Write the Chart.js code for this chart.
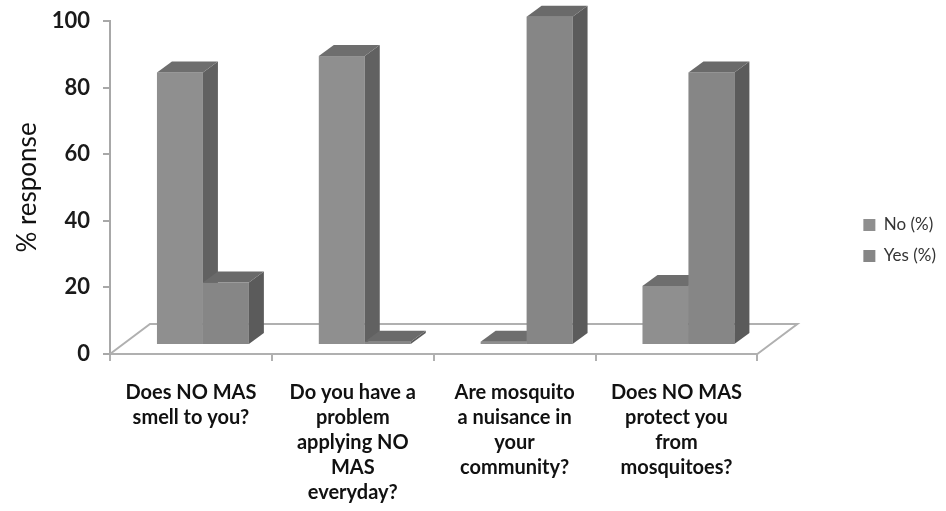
<!DOCTYPE html>
<html>
<head>
<meta charset="utf-8">
<script src="https://cdn.jsdelivr.net/npm/chart.js@4.4.0/dist/chart.umd.min.js"></script>
<style>
  html, body { margin: 0; padding: 0; background: #fff; }
  #wrap { width: 946px; height: 511px; }
</style>
</head>
<body>
<div id="wrap"><canvas id="chart" width="946" height="511"></canvas></div>
<script>
// Survey answers, % response
const categories = [
  ['Does NO MAS', 'smell to you?'],
  ['Do you have a', 'problem', 'applying NO', 'MAS', 'everyday?'],
  ['Are mosquito', 'a nuisance in', 'your', 'community?'],
  ['Does NO MAS', 'protect you', 'from', 'mosquitoes?']
];
const noValues = [83, 88, 1, 18];
const yesValues = [19, 1, 100, 83];
const yTicks = [0, 20, 40, 60, 80, 100];

// 3D look (pixels). The chart area is the front plane of the floor;
// the bars stand a bit further back.
const BAR_X = 12, BAR_Y = -9, BAR_SCALE = 0.986;
const DEPTH_X = 15, DEPTH_Y = -11;   // bar depth
const FLOOR_X = 40, FLOOR_Y = -30;   // floor depth
const faces = [
  { front: '#8f8f8f', top: '#6e6e6e', side: '#616161' },
  { front: '#868686', top: '#6a6a6a', side: '#5b5b5b' }
];

const frame3d = {
  id: 'frame3d',
  beforeDatasetsDraw(chart) {
    const { ctx, chartArea: a } = chart;
    ctx.save();
    ctx.lineWidth = 2;
    ctx.strokeStyle = '#b0b0b0';
    ctx.beginPath();
    ctx.moveTo(a.left, a.bottom);
    ctx.lineTo(a.left + FLOOR_X, a.bottom + FLOOR_Y);
    ctx.lineTo(a.right + FLOOR_X, a.bottom + FLOOR_Y);
    ctx.lineTo(a.right, a.bottom);
    ctx.stroke();
    ctx.restore();
  },
  // the flat bars are replaced by blocks below
  beforeDatasetDraw() {
    return false;
  },
  // No first, then Yes in front of its side
  afterDatasetsDraw(chart) {
    const ctx = chart.ctx;
    ctx.save();
    chart.data.datasets.forEach((ds, i) => {
      const c = faces[i];
      chart.getDatasetMeta(i).data.forEach(bar => {
        const p = bar.getProps(['x', 'y', 'base', 'width'], true);
        const l = p.x - p.width / 2 + BAR_X, r = p.x + p.width / 2 + BAR_X;
        const base = p.base + BAR_Y;
        const y = base - (p.base - p.y) * BAR_SCALE;
        ctx.fillStyle = c.front;
        ctx.fillRect(l, y, r - l, base - y);
        // side
        ctx.fillStyle = c.side;
        ctx.beginPath();
        ctx.moveTo(r, y);
        ctx.lineTo(r + DEPTH_X, y + DEPTH_Y);
        ctx.lineTo(r + DEPTH_X, base + DEPTH_Y);
        ctx.lineTo(r, base);
        ctx.closePath();
        ctx.fill();
        // top
        ctx.fillStyle = c.top;
        ctx.beginPath();
        ctx.moveTo(l, y);
        ctx.lineTo(l + DEPTH_X, y + DEPTH_Y);
        ctx.lineTo(r + DEPTH_X, y + DEPTH_Y);
        ctx.lineTo(r, y);
        ctx.closePath();
        ctx.fill();
      });
    });
    ctx.restore();
  }
};

new Chart(document.getElementById('chart'), {
  type: 'bar',
  data: {
    labels: categories,
    datasets: [
      { label: 'No (%)', data: noValues, backgroundColor: faces[0].front,
        categoryPercentage: 0.568, barPercentage: 1 },
      { label: 'Yes (%)', data: yesValues, backgroundColor: faces[1].front,
        categoryPercentage: 0.568, barPercentage: 1 }
    ]
  },
  options: {
    responsive: false,
    animation: false,
    events: [],
    layout: { padding: { top: 21, bottom: 0, left: 0, right: 0 } },
    plugins: {
      tooltip: { enabled: false },
      legend: {
        position: 'right',
        align: 'start',
        // empty title only pushes the entries down to where they sit in the original
        title: { display: true, text: '', font: { size: 12 }, padding: { top: 167, bottom: 0 } },
        labels: {
          boxWidth: 12,
          boxHeight: 12,
          padding: 14,
          color: '#333',
          font: { family: 'Lato', size: 17 }
        }
      }
    },
    scales: {
      x: {
        grid: { display: true, drawOnChartArea: false, drawTicks: true, tickLength: 7,
                color: '#b0b0b0', lineWidth: 2 },
        border: { display: true, color: '#b0b0b0', width: 2 },
        ticks: {
          autoSkip: false,
          maxRotation: 0,
          padding: 19,
          color: '#111',
          font: { family: 'Lato', size: 20, weight: 'bold', lineHeight: 1.25 }
        },
        afterFit(s) {
          s.height = 157;
          s.paddingLeft = 0;
          s.paddingRight = 0;
        }
      },
      y: {
        min: 0,
        max: 100,
        afterBuildTicks(s) { s.ticks = yTicks.map(v => ({ value: v })); },
        grid: { display: true, drawOnChartArea: false, drawTicks: true, tickLength: 7,
                color: '#a8a8a8', lineWidth: 2 },
        border: { display: true, color: '#a8a8a8', width: 2 },
        ticks: {
          padding: 13,
          color: '#1a1a1a',
          font: { family: 'Lato', size: 22, weight: 'bold' }
        },
        title: {
          display: true,
          text: '% response',
          color: '#111',
          font: { family: 'Lato', size: 26 },
          padding: { top: 12, bottom: 0 }
        },
        afterFit(s) {
          s.width = 110;
          s.paddingTop = 0;
          s.paddingBottom = 0;
        }
      },
      spacer: {
        type: 'linear',
        position: 'right',
        grid: { display: false, drawTicks: false },
        border: { display: false },
        ticks: { display: false },
        afterFit(s) { s.width = 92; }
      }
    }
  },
  plugins: [frame3d]
});
</script>
</body>
</html>
